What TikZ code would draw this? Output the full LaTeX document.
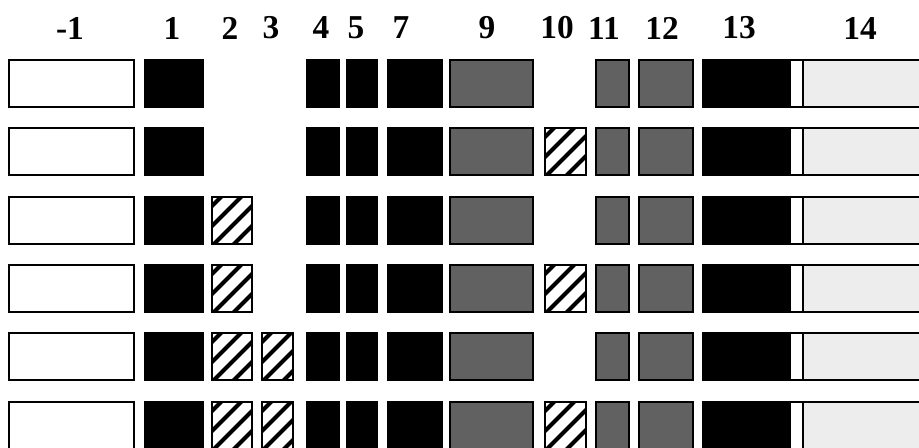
\documentclass[tikz,border=0pt]{standalone}
\usepackage{fontspec}
\setmainfont{Liberation Serif}
\begin{document}
\begin{tikzpicture}[
    x=0.02cm, y=-0.02cm,
    box/.style={draw, line width=1.1pt, inner sep=0pt, outer sep=0pt,
      anchor=north west, minimum height=0.94cm},
    blank/.style={box, fill=white},
    solid/.style={box, fill=black},
    shaded/.style={box, fill=black!62},
    speckle/.style={box, fill=black!7},
    stripes/.style={box, fill=white, path picture={
        \foreach \c in {-80,-60,-40,-20,0,20,40}
          \draw[line width=2.3pt] (path picture bounding box.south west) ++(\c,2) -- ++(90,-90);}},
    head/.style={font=\fontsize{19}{22}\selectfont\bfseries}
  ]
  \clip (0,0) rectangle (919,447);
  % column headings
  \foreach \t/\x in {-1/70, 1/172, 2/230, 3/271, 4/321, 5/356, 7/401,
                     9/487, 10/557, 11/604, 12/662, 13/739, 14/860}
    \node[head] (lab\t) at (\x,28) {\t};
  % boxes present in every row
  \foreach \r/\y in {1/60, 2/128, 3/197, 4/265, 5/333, 6/402} {
    \node[blank, minimum width=2.5cm] (neg\r) at (9,\y) {};
    \node[solid, minimum width=1.16cm] (one\r) at (145,\y) {};
    \node[solid, minimum width=0.64cm] (four\r) at (307,\y) {};
    \node[solid, minimum width=0.6cm] (five\r) at (347,\y) {};
    \node[solid, minimum width=1.08cm] (seven\r) at (388,\y) {};
    \node[shaded, minimum width=1.66cm] (nine\r) at (450,\y) {};
    \node[shaded, minimum width=0.66cm] (eleven\r) at (596,\y) {};
    \node[shaded, minimum width=1.08cm] (twelve\r) at (639,\y) {};
    \node[solid, minimum width=1.74cm] (thirteen\r) at (703,\y) {};
    \node[blank, minimum width=0.26cm] (gap\r) at (790,\y) {};
    \node[speckle, minimum width=2.6cm] (fourteen\r) at (803,\y) {};
  }
  % striped boxes, only in some rows
  \foreach \r/\y in {3/197, 4/265, 5/333, 6/402}
    \node[stripes, minimum width=0.8cm] (two\r) at (212,\y) {};
  \foreach \r/\y in {5/333, 6/402}
    \node[stripes, minimum width=0.62cm] (three\r) at (262,\y) {};
  \foreach \r/\y in {2/128, 4/265, 6/402}
    \node[stripes, minimum width=0.82cm] (ten\r) at (545,\y) {};
\end{tikzpicture}
\end{document}
